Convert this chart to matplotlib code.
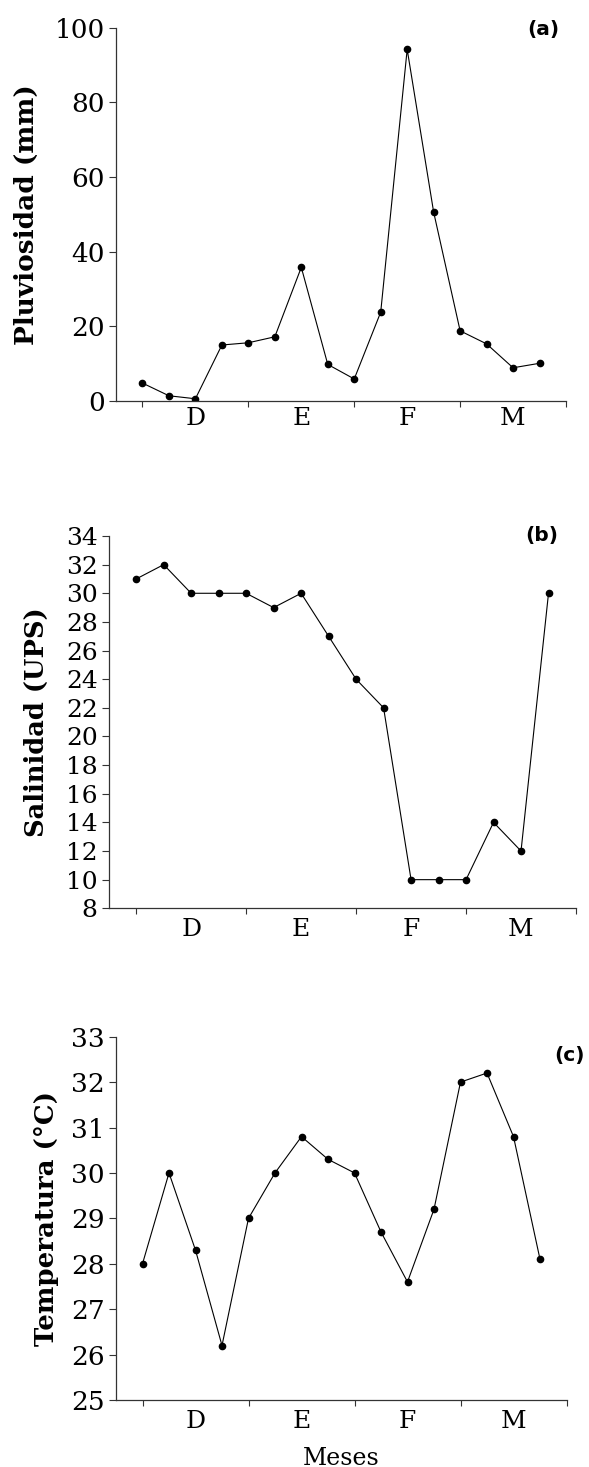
import matplotlib
matplotlib.use('Agg')
import matplotlib.pyplot as plt
import numpy as np

# muestras semanales (4 por mes), dic - mar
muestras = list(range(16))
meses = ['D', 'E', 'F', 'M']
pos_meses = [2, 6, 10, 14]
limites_meses = [0, 4, 8, 12, 16]

pluviosidad = [4.8, 1.4, 0.6, 15.0, 15.6, 17.2, 35.8, 9.8, 5.9, 23.8,
               94.2, 50.6, 18.8, 15.3, 8.9, 10.1]
salinidad = [31, 32, 30, 30, 30, 29, 30, 27, 24, 22, 10, 10, 10, 14, 12, 30]
temperatura = [28.0, 30.0, 28.3, 26.2, 29.0, 30.0, 30.8, 30.3, 30.0, 28.7,
               27.6, 29.2, 32.0, 32.2, 30.8, 28.1]

plt.rcParams['font.family'] = 'DejaVu Serif'

W, H = 589, 1467
fig = plt.figure(figsize=(W / 100, H / 100), dpi=100)


def px_axes(left, right, top, bottom):
    return fig.add_axes([left / W, 1 - bottom / H, (right - left) / W, (bottom - top) / H])


def estilo(ax, ylim, yticks, tick_fs, ylabel, ylabel_fs, ylabel_x, letra, letra_xy, mes_pad):
    ax.set_xlim(-1, 16)
    ax.set_ylim(*ylim)
    ax.set_yticks(yticks)
    for s in ['top', 'right']:
        ax.spines[s].set_visible(False)
    for s in ['left', 'bottom']:
        ax.spines[s].set_color('#333333')
        ax.spines[s].set_linewidth(0.9)
    ax.set_xticks(limites_meses)
    ax.set_xticklabels([])
    ax.set_xticks(pos_meses, minor=True)
    ax.set_xticklabels(meses, minor=True, fontsize=18)
    ax.tick_params(axis='x', which='major', length=4, width=0.8, color='#333333')
    ax.tick_params(axis='x', which='minor', length=0, pad=mes_pad)
    ax.tick_params(axis='y', length=5, width=0.8, color='#333333', labelsize=tick_fs, pad=3)
    ax.set_ylabel(ylabel, fontsize=ylabel_fs, fontweight='bold', va='center')
    ax.yaxis.set_label_coords(ylabel_x, 0.5)
    fig.text(letra_xy[0] / W, 1 - letra_xy[1] / H, letra, family='DejaVu Sans',
             fontweight='bold', fontsize=14.5, ha='center', va='center')


# (a) pluviosidad
ax1 = px_axes(116, 566, 27.7, 401)
ax1.plot(muestras, pluviosidad, color='black', lw=0.8, marker='o', ms=4.5)
estilo(ax1, (0, 100), range(0, 101, 20), 19, 'Pluviosidad (mm)', 19,
       (26.5 - 116) / 450, '(a)', (543, 30), 4)

# (b) salinidad
ax2 = px_axes(108.7, 576, 536, 908.3)
ax2.plot(muestras, salinidad, color='black', lw=0.8, marker='o', ms=4.5)
estilo(ax2, (8, 34), range(8, 35, 2), 18, 'Salinidad (UPS)', 18.5,
       (36.7 - 108.7) / 467.3, '(b)', (542, 536), 7)

# (c) temperatura
ax3 = px_axes(116, 566.5, 1036.7, 1400)
ax3.plot(muestras, temperatura, color='black', lw=0.8, marker='o', ms=4.5)
estilo(ax3, (25, 33), range(25, 34), 19, 'Temperatura (°C)', 18.7,
       (47 - 116) / 450.5, '(c)', (569, 1056), 7)
ax3.set_xlabel('Meses', fontsize=17, labelpad=10)

fig.savefig('out.png', dpi=100)
